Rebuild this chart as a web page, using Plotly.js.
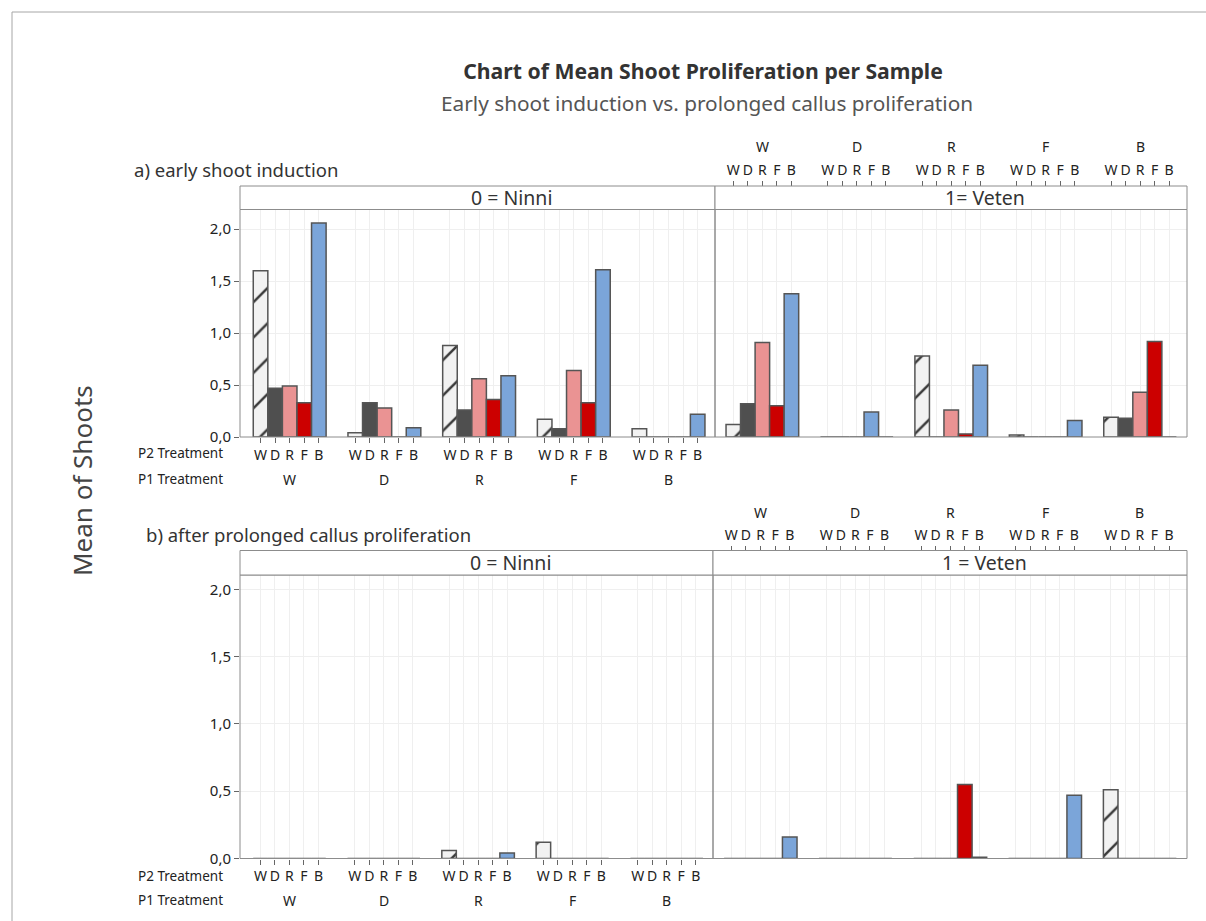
<!DOCTYPE html>
<html>
<head>
<meta charset="utf-8">
<script src="https://cdn.plot.ly/plotly-3.0.1.min.js"></script>
<style>
html,body{margin:0;padding:0;background:#fff;}
#chart{width:1206px;height:921px;}
</style>
</head>
<body>
<div id="chart"></div>
<script>
// ---------------- DATA ----------------
const p1Labels = ['W', 'D', 'R', 'F', 'B'];          // P1 Treatment (groups)
const p2Labels = ['W', 'D', 'R', 'F', 'B'];          // P2 Treatment (bars in each group)
const yTickVals = [0, 0.5, 1.0, 1.5, 2.0];
const stageLabels = ['a) early shoot induction', 'b) after prolonged callus proliferation'];
const stripEarly = ['0 = Ninni', '1= Veten'];
const stripLate = ['0 = Ninni', '1 = Veten'];

// a) early shoot induction, 0 = Ninni : one array per P2 treatment, values over P1 groups W,D,R,F,B
const earlyNinniW = [1.60, 0.04, 0.88, 0.17, 0.08];
const earlyNinniD = [0.47, 0.33, 0.26, 0.08, 0.00];
const earlyNinniR = [0.49, 0.28, 0.56, 0.64, 0.00];
const earlyNinniF = [0.33, 0.00, 0.36, 0.33, 0.00];
const earlyNinniB = [2.06, 0.09, 0.59, 1.61, 0.22];

// a) early shoot induction, 1 = Veten
const earlyVetenW = [0.12, 0.00, 0.78, 0.02, 0.19];
const earlyVetenD = [0.32, 0.00, 0.00, 0.00, 0.18];
const earlyVetenR = [0.91, 0.00, 0.26, 0.00, 0.43];
const earlyVetenF = [0.30, 0.24, 0.03, 0.00, 0.92];
const earlyVetenB = [1.38, 0.00, 0.69, 0.16, 0.00];
// in the original, the F bar of group D (Veten, early) is filled with the B colour
const earlyVetenFColourOverride = { group: 'D', useColourOf: 'B' };

// b) after prolonged callus proliferation, 0 = Ninni
const lateNinniW = [0.00, 0.00, 0.06, 0.12, 0.00];
const lateNinniD = [0.00, 0.00, 0.00, 0.00, 0.00];
const lateNinniR = [0.00, 0.00, 0.00, 0.00, 0.00];
const lateNinniF = [0.00, 0.00, 0.00, 0.00, 0.00];
const lateNinniB = [0.00, 0.00, 0.04, 0.00, 0.00];

// b) after prolonged callus proliferation, 1 = Veten
const lateVetenW = [0.00, 0.00, 0.00, 0.00, 0.51];
const lateVetenD = [0.00, 0.00, 0.00, 0.00, 0.00];
const lateVetenR = [0.00, 0.00, 0.00, 0.00, 0.00];
const lateVetenF = [0.00, 0.00, 0.55, 0.00, 0.00];
const lateVetenB = [0.16, 0.00, 0.01, 0.47, 0.00];

// ---------------- STYLE ----------------
const W = 1206, H = 921;
const px = v => v / W;
const py = v => 1 - v / H;
const FONT = "'Noto Sans', 'Open Sans', sans-serif";
const TXT = '#333333';
const FRAME = '#8c8c8c';
const GRID = '#efefef';
const fillColours = { W: '#f2f2f2', D: '#4f4f4f', R: '#ea9393', F: '#cc0000', B: '#7ba5d9' };
const GROUP_STEP = 6.5;   // slot distance between P1 groups (bar width = 1)
const pos = (g, j) => g * GROUP_STEP + j;

const panels = [
  { xa: 'x',  ya: 'y',  series: [earlyNinniW, earlyNinniD, earlyNinniR, earlyNinniF, earlyNinniB], override: null },
  { xa: 'x2', ya: 'y',  series: [earlyVetenW, earlyVetenD, earlyVetenR, earlyVetenF, earlyVetenB], override: { series: 'F', ...earlyVetenFColourOverride } },
  { xa: 'x3', ya: 'y2', series: [lateNinniW, lateNinniD, lateNinniR, lateNinniF, lateNinniB], override: null },
  { xa: 'x4', ya: 'y2', series: [lateVetenW, lateVetenD, lateVetenR, lateVetenF, lateVetenB], override: null },
];

const traces = [];
panels.forEach(p => {
  p.series.forEach((vals, j) => {
    const key = p2Labels[j];
    let colour = fillColours[key];
    if (p.override && p.override.series === key) {
      colour = p1Labels.map(g => p.override.group === g ? fillColours[p.override.useColourOf] : fillColours[key]);
    }
    const t = {
      type: 'bar',
      xaxis: p.xa, yaxis: p.ya,
      x: p1Labels.map((g, gi) => pos(gi, j)),
      y: vals,
      width: 1,
      name: key,
      showlegend: false,
      hoverinfo: 'skip',
      marker: { color: colour, line: { color: '#555555', width: 1.5 } }
    };
    if (key === 'W') {
      t.marker.pattern = { shape: '/', fgcolor: '#3a3a3a', fgopacity: 1, bgcolor: '#f2f2f2', size: 25, solidity: 0.1, fillmode: 'replace' };
    }
    traces.push(t);
  });
});

const tickVals = [];
const tickText = [];
p1Labels.forEach((g, gi) => p2Labels.forEach((k, j) => { tickVals.push(pos(gi, j)); tickText.push(k); }));

const xBase = {
  type: 'linear', tickmode: 'array', tickvals: tickVals, ticktext: tickText,
  ticks: 'outside', ticklen: 5, tickwidth: 1, tickcolor: '#666666',
  tickfont: { family: FONT, size: 14, color: '#222222' },
  showgrid: true, gridcolor: GRID, gridwidth: 1,
  zeroline: false, showline: false, fixedrange: true
};
const yBase = {
  type: 'linear', tickmode: 'array', tickvals: yTickVals, tickformat: '.1f',
  ticks: 'outside', ticklen: 5, tickwidth: 1, tickcolor: '#666666',
  tickfont: { family: FONT, size: 15, color: '#222222' },
  showgrid: true, gridcolor: GRID, gridwidth: 1,
  zeroline: false, showline: false, fixedrange: true
};

const layout = {
  width: W, height: H,
  margin: { l: 0, r: 0, t: 0, b: 0 },
  paper_bgcolor: '#ffffff', plot_bgcolor: '#ffffff',
  separators: ',.',
  bargap: 0, barmode: 'overlay',
  font: { family: FONT, color: TXT },
  title: {
    text: 'Chart of Mean Shoot Proliferation per Sample',
    font: { family: FONT, size: 21.2, color: TXT, weight: 'bold' },
    x: px(703), xanchor: 'center', xref: 'paper',
    y: py(72), yanchor: 'middle', yref: 'paper'
  },
  xaxis:  Object.assign({}, xBase, { domain: [px(240), px(715)], anchor: 'y', range: [-1.41, 31.19], side: 'bottom' }),
  xaxis2: Object.assign({}, xBase, { domain: [px(715), px(1187)], anchor: 'free', position: py(186), side: 'top', range: [-1.26, 31.23] }),
  xaxis3: Object.assign({}, xBase, { domain: [px(240), px(713)], anchor: 'y2', range: [-1.41, 31.19], side: 'bottom' }),
  xaxis4: Object.assign({}, xBase, { domain: [px(713), px(1187)], anchor: 'free', position: py(550.5), side: 'top', range: [-1.26, 31.23] }),
  yaxis:  Object.assign({}, yBase, { domain: [py(437), py(209.5)], anchor: 'x', range: [0, 2.19] }),
  yaxis2: Object.assign({}, yBase, { domain: [py(858.5), py(575)], anchor: 'x3', range: [0, 2.106] }),
  shapes: [],
  annotations: []
};

// outer frame
layout.shapes.push({ type: 'line', xref: 'paper', yref: 'paper', x0: px(12), x1: 1, y0: py(12), y1: py(12), line: { color: '#a6a6a6', width: 1 } });
layout.shapes.push({ type: 'line', xref: 'paper', yref: 'paper', x0: px(12), x1: px(12), y0: py(12), y1: 0, line: { color: '#a6a6a6', width: 1 } });

// panel frames + strips
const stripDefs = [
  { xa: 'x',  ya: 'y',  top: 186,   bot: 209.5, label: stripEarly[0] },
  { xa: 'x2', ya: 'y',  top: 186,   bot: 209.5, label: stripEarly[1] },
  { xa: 'x3', ya: 'y2', top: 550.5, bot: 575,   label: stripLate[0] },
  { xa: 'x4', ya: 'y2', top: 550.5, bot: 575,   label: stripLate[1] },
];
stripDefs.forEach(s => {
  layout.shapes.push({ type: 'rect', xref: s.xa + ' domain', yref: s.ya + ' domain', x0: 0, x1: 1, y0: 0, y1: 1, line: { color: FRAME, width: 1 }, fillcolor: 'rgba(0,0,0,0)', layer: 'above' });
  layout.shapes.push({ type: 'rect', xref: s.xa + ' domain', yref: 'paper', x0: 0, x1: 1, y0: py(s.bot), y1: py(s.top), line: { color: FRAME, width: 1 }, fillcolor: '#ffffff', layer: 'above' });
  layout.annotations.push({ xref: s.xa + ' domain', yref: 'paper', x: 0.572, y: py((s.top + s.bot) / 2), text: s.label, showarrow: false, xanchor: 'center', yanchor: 'middle', font: { family: FONT, size: 19.5, color: TXT } });
});

// subtitle
layout.annotations.push({ xref: 'paper', yref: 'paper', x: px(707), y: py(103), text: 'Early shoot induction vs. prolonged callus proliferation', showarrow: false, xanchor: 'center', yanchor: 'middle', font: { family: FONT, size: 20.8, color: '#555555' } });
// section labels
layout.annotations.push({ xref: 'paper', yref: 'paper', x: px(132), y: py(170), text: stageLabels[0], showarrow: false, xanchor: 'left', yanchor: 'middle', font: { family: FONT, size: 18.5, color: TXT } });
layout.annotations.push({ xref: 'paper', yref: 'paper', x: px(144), y: py(534), text: stageLabels[1], showarrow: false, xanchor: 'left', yanchor: 'middle', font: { family: FONT, size: 18.5, color: TXT } });
// y title
layout.annotations.push({ xref: 'paper', yref: 'paper', x: px(82), y: py(481), text: 'Mean of Shoots', textangle: -90, showarrow: false, xanchor: 'center', yanchor: 'middle', font: { family: FONT, size: 26, color: '#444444' } });
// row labels
[[453, 'P2 Treatment'], [479, 'P1 Treatment'], [876, 'P2 Treatment'], [900, 'P1 Treatment']].forEach(([yy, t]) => {
  layout.annotations.push({ xref: 'paper', yref: 'paper', x: px(225), y: py(yy), text: t, showarrow: false, xanchor: 'right', yanchor: 'middle', font: { family: FONT, size: 13.5, color: '#222222' } });
});
// P1 group labels
[['x', 479], ['x2', 147], ['x3', 900], ['x4', 512]].forEach(([xa, yy]) => {
  p1Labels.forEach((g, gi) => {
    layout.annotations.push({ xref: xa, yref: 'paper', x: pos(gi, 2), y: py(yy), text: g, showarrow: false, xanchor: 'center', yanchor: 'middle', font: { family: FONT, size: 14, color: '#222222' } });
  });
});

Plotly.newPlot('chart', traces, layout, { displayModeBar: false, staticPlot: true });
</script>
</body>
</html>
